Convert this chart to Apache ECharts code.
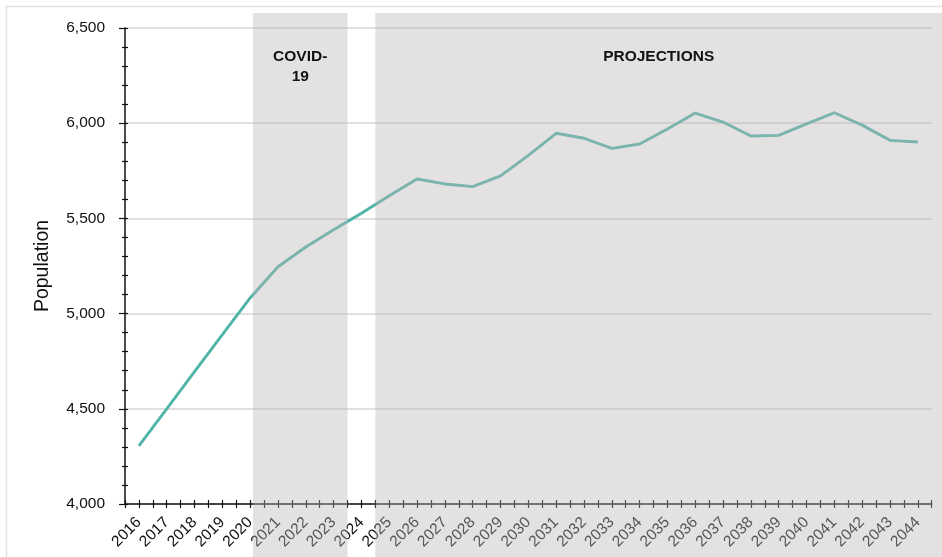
<!DOCTYPE html>
<html>
<head>
<meta charset="utf-8">
<script src="https://cdn.jsdelivr.net/npm/echarts@6/dist/echarts.min.js"></script>
<style>
  html, body { margin: 0; padding: 0; background: #fff; }
  #main { width: 942px; height: 557px; }
</style>
</head>
<body>
<div id="main"></div>
<script>
// Resident population by year, actuals and projections
const years = [2016, 2017, 2018, 2019, 2020, 2021, 2022, 2023, 2024, 2025,
  2026, 2027, 2028, 2029, 2030, 2031, 2032, 2033, 2034, 2035,
  2036, 2037, 2038, 2039, 2040, 2041, 2042, 2043, 2044];
const population = [4305, 4500, 4695, 4890, 5082, 5246, 5350, 5440, 5527, 5619,
  5707, 5681, 5667, 5723, 5831, 5947, 5921, 5868, 5891, 5970,
  6053, 6006, 5933, 5936, 5996, 6055, 5990, 5910, 5901];
const yTicks = [4000, 4500, 5000, 5500, 6000, 6500];

// Shaded periods (in fractional years)
const covidPeriod = [2020.6, 2024];
const projectionStart = 2025;
const covidLabel = 'COVID-\n19';
const projectionLabel = 'PROJECTIONS';

const FONT = '"Liberation Sans", Arial, Helvetica, sans-serif';
const INK = '#111';
const SHADE = 'rgba(186,181,183,0.4)';

const chart = echarts.init(document.getElementById('main'), null, { renderer: 'canvas' });

const tickAxis = (inside) => ({
  type: 'value',
  position: 'bottom',
  min: 0,
  max: years.length,
  interval: 0.5,
  axisLine: { show: false },
  axisTick: { show: true, inside: inside, length: 4, lineStyle: { color: INK, width: 1.2 } },
  axisLabel: { show: false },
  splitLine: { show: false }
});

chart.setOption({
  animation: false,
  backgroundColor: '#fff',
  grid: { left: 125, right: 10.3, top: 28, bottom: 53 },
  xAxis: [
    {
      type: 'category',
      position: 'bottom',
      data: years.map(String),
      boundaryGap: true,
      axisLine: { show: true, lineStyle: { color: INK, width: 1.5 } },
      axisTick: { show: false },
      axisLabel: {
        interval: 0, rotate: 45, margin: 16,
        fontSize: 15.5, fontFamily: FONT, color: INK
      },
      splitLine: { show: false }
    },
    tickAxis(false),
    tickAxis(true)
  ],
  yAxis: [
    {
      type: 'value',
      position: 'left',
      min: yTicks[0],
      max: yTicks[yTicks.length - 1],
      interval: yTicks[1] - yTicks[0],
      name: 'Population',
      nameLocation: 'middle',
      nameGap: 72,
      nameTextStyle: { fontSize: 19.5, fontFamily: FONT, color: INK },
      axisLine: { show: true, lineStyle: { color: INK, width: 1.5 } },
      axisTick: { show: true, length: 6, lineStyle: { color: INK, width: 1.2 } },
      minorTick: { show: true, splitNumber: 5, length: 3, lineStyle: { color: INK, width: 1.2 } },
      axisLabel: {
        margin: 20, fontSize: 15.5, fontFamily: FONT, color: INK,
        formatter: v => v.toLocaleString('en-US')
      },
      splitLine: { show: true, lineStyle: { color: '#d6d6d6', width: 1.5 } }
    },
    {
      type: 'value',
      position: 'left',
      min: yTicks[0],
      max: yTicks[yTicks.length - 1],
      interval: 100,
      axisLine: { show: false },
      axisTick: { show: true, inside: true, length: 3, lineStyle: { color: INK, width: 1.2 } },
      axisLabel: { show: false },
      splitLine: { show: false }
    }
  ],
  series: [{
    type: 'line',
    xAxisIndex: 0,
    yAxisIndex: 0,
    data: population,
    showSymbol: false,
    lineStyle: { color: '#50b4a6', width: 2.9, join: 'round' }
  }]
});

// Translucent period bands laid over the chart, positioned through the x scale
const toX = year => chart.convertToPixel({ xAxisIndex: 1 }, year - years[0]);
const W = chart.getWidth(), H = chart.getHeight();
const bandTop = 13;
const covidX0 = toX(covidPeriod[0]), covidX1 = toX(covidPeriod[1]);
const projX0 = toX(projectionStart);

chart.setOption({
  graphic: [
    {
      type: 'rect', silent: true, z: 0,
      shape: { x: 6.5, y: 6.5, width: W + 20, height: H + 20 },
      style: { fill: null, stroke: '#e2e2e2', lineWidth: 1.5 }
    },
    {
      type: 'rect', silent: true, z: 100,
      shape: { x: covidX0, y: bandTop, width: covidX1 - covidX0, height: H - bandTop },
      style: { fill: SHADE }
    },
    {
      type: 'rect', silent: true, z: 100,
      shape: { x: projX0, y: bandTop, width: W - projX0, height: H - bandTop },
      style: { fill: SHADE }
    },
    {
      type: 'text', silent: true, z: 101,
      x: (covidX0 + covidX1) / 2, y: 66.7,
      style: {
        text: covidLabel, fill: INK, font: 'bold 15.5px ' + FONT,
        align: 'center', verticalAlign: 'middle', lineHeight: 20
      }
    },
    {
      type: 'text', silent: true, z: 101,
      x: (projX0 + W) / 2, y: 56.7,
      style: {
        text: projectionLabel, fill: INK, font: 'bold 15.5px ' + FONT,
        align: 'center', verticalAlign: 'middle'
      }
    }
  ]
});
</script>
</body>
</html>
